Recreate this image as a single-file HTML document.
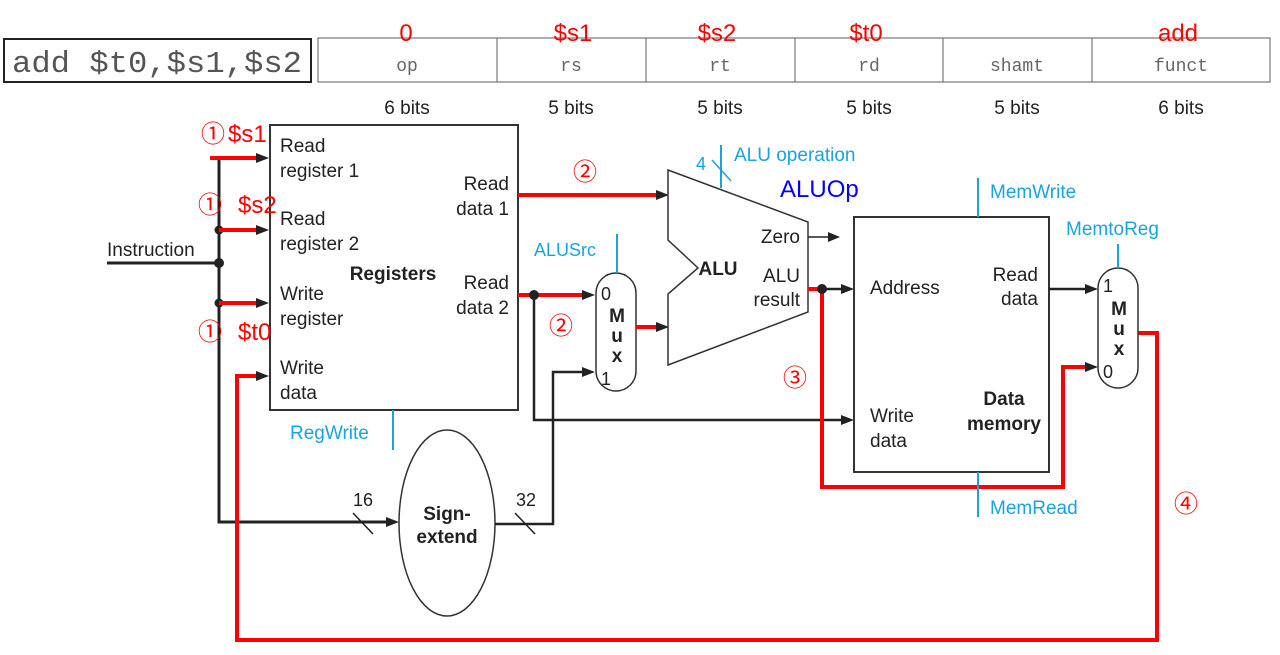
<!DOCTYPE html>
<html><head><meta charset="utf-8"><style>
html,body{margin:0;padding:0;background:#fff;}
svg{display:block;font-family:"Liberation Sans",sans-serif;}
</style></head><body>
<svg width="1280" height="655" viewBox="0 0 1280 655" xmlns="http://www.w3.org/2000/svg">
<!-- instruction -->
<rect x="4" y="39" width="307" height="43" fill="#fff" stroke="#222" stroke-width="2"/>
<text x="157" y="72" font-family="Liberation Mono,monospace" font-size="31" fill="#555" text-anchor="middle" textLength="290" lengthAdjust="spacingAndGlyphs">add $t0,$s1,$s2</text>
<rect x="318" y="38" width="952" height="44" fill="#fff" stroke="#777" stroke-width="1.2"/>
<g stroke="#777" stroke-width="1.2"><line x1="497" y1="38" x2="497" y2="82"/><line x1="646" y1="38" x2="646" y2="82"/><line x1="795" y1="38" x2="795" y2="82"/><line x1="943" y1="38" x2="943" y2="82"/><line x1="1092" y1="38" x2="1092" y2="82"/></g>
<g font-family="Liberation Mono,monospace" font-size="18" fill="#666" text-anchor="middle">
<text x="407" y="71">op</text><text x="571" y="71">rs</text><text x="720" y="71">rt</text><text x="869" y="71">rd</text><text x="1017" y="71">shamt</text><text x="1181" y="71">funct</text></g>
<g font-size="24" fill="#f00" text-anchor="middle">
<text x="406" y="41">0</text><text x="573" y="41">$s1</text><text x="717" y="41">$s2</text><text x="866" y="41">$t0</text><text x="1178" y="41">add</text></g>
<g font-size="19" fill="#222" text-anchor="middle">
<text x="407" y="114">6 bits</text><text x="571" y="114">5 bits</text><text x="720" y="114">5 bits</text><text x="869" y="114">5 bits</text><text x="1017" y="114">5 bits</text><text x="1181" y="114">6 bits</text></g>

<!-- registers -->
<rect x="270" y="125" width="248" height="285" fill="#fff" stroke="#333" stroke-width="2"/>
<g font-size="19" fill="#222">
<text x="280" y="152">Read</text><text x="280" y="177">register 1</text>
<text x="280" y="225">Read</text><text x="280" y="250">register 2</text>
<text x="280" y="300">Write</text><text x="280" y="325">register</text>
<text x="280" y="374">Write</text><text x="280" y="399">data</text>
<text x="509" y="190" text-anchor="end">Read</text><text x="509" y="215" text-anchor="end">data 1</text>
<text x="509" y="289" text-anchor="end">Read</text><text x="509" y="314" text-anchor="end">data 2</text>
<text x="393" y="280" text-anchor="middle" font-weight="bold">Registers</text>
<text x="107" y="256">Instruction</text>
</g>
<g stroke="#222" stroke-width="3" fill="none">
<line x1="107" y1="263" x2="219" y2="263"/>
<polyline points="219,158 219,522 388,522"/>
</g>
<path d="M386,517 L399,522 L386,527z" fill="#222"/>
<g fill="#222"><circle cx="219" cy="230" r="4.5"/><circle cx="219" cy="263" r="5"/><circle cx="219" cy="303" r="4.5"/></g>
<g stroke="#f00" stroke-width="4" fill="none">
<line x1="210" y1="158" x2="258" y2="158"/><line x1="219" y1="230" x2="258" y2="230"/><line x1="219" y1="303" x2="258" y2="303"/>
<polyline points="258,376 237,376 237,640 1157,640 1157,333 1138,333"/>
</g>
<g fill="#222"><path d="M256,153 L269,158 L256,163z"/><path d="M256,225 L269,230 L256,235z"/><path d="M256,298 L269,303 L256,308z"/><path d="M256,371 L269,376 L256,381z"/></g>
<g font-size="24" fill="#f00" font-family="Liberation Sans,'Noto Sans CJK JP',sans-serif">
<text x="201" y="142">①</text><text x="228" y="142">$s1</text><text x="198" y="213">①</text><text x="238" y="213">$s2</text>
<text x="198" y="340">①</text><text x="238" y="340">$t0</text>
<text x="573" y="180">②</text><text x="549" y="334">②</text><text x="783" y="386">③</text><text x="1174" y="512">④</text>
</g>
<!-- RegWrite -->
<line x1="393" y1="410" x2="393" y2="450" stroke="#1aa3e0" stroke-width="2"/>
<text x="290" y="439" font-size="19" fill="#1aa3e0">RegWrite</text>

<!-- sign extend -->
<ellipse cx="447" cy="523" rx="48" ry="93" fill="#fff" stroke="#333" stroke-width="1.5"/>
<text x="447" y="520" font-size="19" font-weight="bold" text-anchor="middle" fill="#222">Sign-</text>
<text x="447" y="543" font-size="19" font-weight="bold" text-anchor="middle" fill="#222">extend</text>
<text x="353" y="506" font-size="18" fill="#222">16</text><text x="516" y="506" font-size="18" fill="#222">32</text>
<line x1="353" y1="513" x2="373" y2="534" stroke="#222" stroke-width="1.5"/>
<line x1="515" y1="513" x2="535" y2="534" stroke="#222" stroke-width="1.5"/>
<polyline points="495,524 553,524 553,372 584,372" stroke="#222" stroke-width="2.5" fill="none"/>
<path d="M582,367 L595,372 L582,377z" fill="#222"/>

<!-- read data lines -->
<line x1="518" y1="195" x2="658" y2="195" stroke="#f00" stroke-width="4"/>
<path d="M656,190 L669,195 L656,200z" fill="#222"/>
<line x1="518" y1="295" x2="584" y2="295" stroke="#f00" stroke-width="4"/>
<path d="M582,290 L595,295 L582,300z" fill="#222"/>
<circle cx="534" cy="295" r="5" fill="#222"/>
<polyline points="534,295 534,420 842,420" stroke="#222" stroke-width="2.5" fill="none"/>
<path d="M841,415 L854,420 L841,425z" fill="#222"/>

<!-- ALUSrc mux -->
<rect x="596" y="273" width="40" height="118" rx="20" fill="#fff" stroke="#333" stroke-width="1.5"/>
<line x1="617" y1="234" x2="617" y2="273" stroke="#1aa3e0" stroke-width="2"/>
<text x="534" y="256" font-size="18" fill="#1aa3e0">ALUSrc</text>
<text x="601" y="300" font-size="18" fill="#222">0</text><text x="601" y="385" font-size="18" fill="#222">1</text>
<text x="617" y="322" font-size="19" font-weight="bold" text-anchor="middle" fill="#222">M</text>
<text x="617" y="342" font-size="19" font-weight="bold" text-anchor="middle" fill="#222">u</text>
<text x="617" y="362" font-size="19" font-weight="bold" text-anchor="middle" fill="#222">x</text>
<line x1="636" y1="327" x2="658" y2="327" stroke="#f00" stroke-width="4"/>
<path d="M656,322 L669,327 L656,332z" fill="#222"/>

<!-- ALU -->
<polygon points="668,170 808,222 808,312 668,365 668,294 698,268 668,240" fill="#fff" stroke="#333" stroke-width="1.5"/>
<text x="718" y="275" font-size="19" font-weight="bold" text-anchor="middle" fill="#222">ALU</text>
<text x="800" y="243" font-size="19" text-anchor="end" fill="#222">Zero</text>
<text x="800" y="282" font-size="19" text-anchor="end" fill="#222">ALU</text>
<text x="800" y="306" font-size="19" text-anchor="end" fill="#222">result</text>
<line x1="721" y1="145" x2="721" y2="188" stroke="#1aa3e0" stroke-width="2"/>
<line x1="712" y1="160" x2="731" y2="181" stroke="#1aa3e0" stroke-width="1.5"/>
<text x="696" y="170" font-size="18" fill="#1aa3e0">4</text>
<text x="734" y="161" font-size="19" fill="#1aa3e0">ALU operation</text>
<text x="780" y="197" font-size="24" fill="#00f">ALUOp</text>
<line x1="808" y1="237" x2="830" y2="237" stroke="#222" stroke-width="1.5"/>
<path d="M828,232 L840,237 L828,242z" fill="#222"/>
<line x1="808" y1="289" x2="842" y2="289" stroke="#222" stroke-width="2.5"/>
<line x1="808" y1="289" x2="822" y2="289" stroke="#f00" stroke-width="4"/>
<path d="M841,284 L854,289 L841,294z" fill="#222"/>
<polyline points="822,289 822,487 1063,487 1063,367 1088,367" stroke="#f00" stroke-width="4" fill="none"/>
<circle cx="822" cy="289" r="5" fill="#222"/>
<path d="M1085,362 L1098,367 L1085,372z" fill="#222"/>

<!-- data memory -->
<rect x="854" y="217" width="195" height="255" fill="#fff" stroke="#333" stroke-width="2"/>
<g font-size="19" fill="#222">
<text x="870" y="294">Address</text>
<text x="1038" y="281" text-anchor="end">Read</text><text x="1038" y="305" text-anchor="end">data</text>
<text x="870" y="422">Write</text><text x="870" y="447">data</text>
<text x="1004" y="405" text-anchor="middle" font-weight="bold">Data</text>
<text x="1004" y="430" text-anchor="middle" font-weight="bold">memory</text>
</g>
<line x1="978" y1="178" x2="978" y2="217" stroke="#1aa3e0" stroke-width="2"/>
<line x1="978" y1="472" x2="978" y2="517" stroke="#1aa3e0" stroke-width="2"/>
<text x="990" y="198" font-size="19" fill="#1aa3e0">MemWrite</text>
<text x="990" y="514" font-size="19" fill="#1aa3e0">MemRead</text>
<line x1="1049" y1="289" x2="1088" y2="289" stroke="#222" stroke-width="2.5"/>
<path d="M1085,284 L1098,289 L1085,294z" fill="#222"/>

<!-- MemtoReg mux -->
<rect x="1098" y="268" width="40" height="120" rx="20" fill="#fff" stroke="#333" stroke-width="1.5"/>
<line x1="1118" y1="244" x2="1118" y2="268" stroke="#1aa3e0" stroke-width="2"/>
<text x="1066" y="235" font-size="19" fill="#1aa3e0">MemtoReg</text>
<text x="1103" y="292" font-size="18" fill="#222">1</text><text x="1103" y="378" font-size="18" fill="#222">0</text>
<text x="1119" y="315" font-size="19" font-weight="bold" text-anchor="middle" fill="#222">M</text>
<text x="1119" y="335" font-size="19" font-weight="bold" text-anchor="middle" fill="#222">u</text>
<text x="1119" y="355" font-size="19" font-weight="bold" text-anchor="middle" fill="#222">x</text>
</svg>
</body></html>
